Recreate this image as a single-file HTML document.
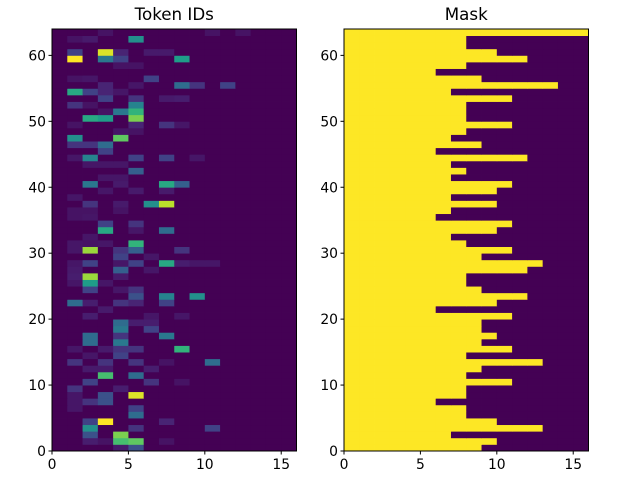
<!DOCTYPE html>
<html><head><meta charset="utf-8"><style>
body{margin:0;background:#fff;}
svg{display:block;font-family:"DejaVu Sans","Liberation Sans",sans-serif;}
</style></head><body>
<svg id="fig" width="640" height="480" xmlns="http://www.w3.org/2000/svg"></svg>
<script>
const xTicks=[0,5,10,15];
const yTicks=[0,10,20,30,40,50,60];
const nCols=16, nRows=64;
// mask lengths, row 0 first
const maskLengths=[9,10,7,13,10,8,8,6,8,8,11,8,9,13,8,11,9,10,9,9,11,6,10,12,9,8,8,12,13,9,11,8,
7,10,11,6,7,10,7,10,11,7,8,7,12,6,9,7,8,11,8,8,8,11,7,14,9,6,8,12,10,8,8,16];
// token cells [row, col, value 0..10]; all others 0
const tokenCells=[
[63,3,.5],[63,10,.5],[63,12,.5],
[62,1,.5],[62,2,.7],[62,5,5],
[60,1,2],[60,3,9.5],[60,4,1],[60,6,.7],[60,7,.7],
[59,1,10],[59,3,4],[59,4,2],[59,8,5.5],
[58,4,.5],[58,5,.5],
[56,1,.5],[56,2,.6],[56,6,2],
[55,3,1],[55,5,.6],[55,8,3.5],[55,9,1.5],[55,11,2],
[54,1,6],[54,2,2],[54,3,1],[54,4,.6],
[53,3,2],[53,5,1.5],[53,7,.7],[53,8,.8],
[52,1,1.5],[52,2,.5],[52,5,4.5],
[51,3,.5],[51,4,4],[51,5,6.5],
[50,2,6],[50,3,5.5],[50,5,8],
[49,1,.5],[49,5,1],[49,7,1.5],[49,8,.6],
[48,4,.6],[48,5,.5],
[47,1,5],[47,4,7.5],
[46,1,1.5],[46,2,1.5],[46,3,3.5],
[45,3,2],
[44,1,.6],[44,2,4.5],[44,5,2],[44,7,2],[44,9,.6],
[43,2,.6],[43,3,.6],[43,4,.6],
[42,5,3],
[41,3,.6],[41,4,.6],
[40,2,4],[40,4,.7],[40,7,6],[40,8,3],
[39,3,.6],[39,5,.7],[39,7,.7],
[38,1,.6],
[37,2,1.5],[37,4,.7],[37,6,5],[37,7,9],
[36,1,.5],[36,2,.5],[36,4,.5],
[35,1,.5],[35,2,.6],
[34,3,2],[34,5,1.5],
[33,3,6],[33,5,.6],[33,7,3.5],
[32,2,.6],
[31,1,.6],[31,2,.5],[31,3,.6],[31,5,6.5],
[30,1,.6],[30,2,8.5],[30,4,1.5],[30,5,3],[30,8,1.5],
[29,4,2],[29,6,.6],
[28,1,.6],[28,2,2],[28,4,.6],[28,5,2],[28,7,6],[28,8,.8],[28,9,.6],[28,10,.6],
[27,1,.7],[27,4,3],[27,6,.6],
[26,1,.8],[26,2,8.5],[26,4,.7],
[25,1,.6],[25,2,5.5],[25,3,.6],
[24,2,2],[24,4,.6],[24,5,1.5],
[23,5,2.5],[23,7,4.5],[23,9,5],
[22,1,3.5],[22,2,.8],[22,4,1.5],[22,5,1],[22,7,2],
[21,3,.7],
[20,2,.8],[20,6,.6],[20,8,.6],
[19,4,3.5],[19,5,.8],[19,6,.8],
[18,4,4],[18,6,2],
[17,2,3.5],[17,4,1.5],[17,7,4],
[16,2,3.5],[16,4,4],
[15,1,.6],[15,3,.7],[15,4,1.5],[15,5,1.5],[15,8,6.5],
[14,2,.6],[14,4,2],
[13,1,1.5],[13,3,1.5],[13,5,1.5],[13,7,.5],[13,10,3.5],
[12,2,.7],[12,3,.7],[12,6,.8],
[11,3,7],[11,5,3.5],
[10,2,2],[10,6,1.5],[10,8,.5],
[9,1,1.5],[9,4,.8],
[8,1,.6],[8,3,2.5],[8,5,9.5],
[7,1,.6],[7,2,1.5],[7,3,2.5],
[6,1,.6],[6,5,2],
[5,5,3.5],
[4,2,2],[4,3,10],[4,7,1],
[3,2,5],[3,5,1.5],[3,10,2],
[2,2,2.5],[2,4,8],
[1,2,.8],[1,3,.5],[1,4,7],[1,5,7.5],[1,7,.5],
[0,4,.7],[0,5,2.5]
];
const viridis=[[68,1,84],[72,40,120],[62,73,137],[49,104,142],[38,130,142],[31,158,137],[53,183,121],[109,205,89],[180,222,44],[253,231,37]];
function cmap(t){t=Math.max(0,Math.min(1,t));const p=t*(viridis.length-1);const i=Math.min(Math.floor(p),viridis.length-2);const f=p-i;
const a=viridis[i],b=viridis[i+1];return `rgb(${a.map((v,k)=>Math.round(v+(b[k]-v)*f)).join(',')})`;}
const NS="http://www.w3.org/2000/svg";
const svg=document.getElementById('fig');
function mk(tag,attrs,parent){const e=document.createElementNS(NS,tag);for(const k in attrs)e.setAttribute(k,attrs[k]);(parent||svg).appendChild(e);return e;}
function panel(x0,title,name,cellColor){
  const top=29,bottom=451,w=244.5,h=bottom-top;
  const sx=v=>x0+v*w/nCols, sy=v=>bottom-v*h/nRows;
  const g=mk('g',{});
  
  
  for(let r=0;r<nRows;r++)for(let c=0;c<nCols;c++){
    const rc=mk('rect',{x:sx(c),y:sy(r+1),width:sx(c+1)-sx(c)+0.4,height:sy(r)-sy(r+1)+0.4,fill:cellColor(r,c)},g);
    
    
  }
  const fr=mk('rect',{x:x0,y:top,width:w,height:h,fill:'none',stroke:'#000','stroke-width':1},g);
  
  
  xTicks.forEach(t=>{mk('line',{x1:sx(t),x2:sx(t),y1:bottom,y2:bottom+3.5,stroke:'#000'},g);
    const tx=mk('text',{x:sx(t),y:bottom+18,'font-size':13.9,'text-anchor':'middle'},g);tx.textContent=t;
    
    });
  yTicks.forEach(t=>{mk('line',{x1:x0-3.5,x2:x0,y1:sy(t),y2:sy(t),stroke:'#000'},g);
    const tx=mk('text',{x:x0-6,y:sy(t)+5,'font-size':13.9,'text-anchor':'end'},g);tx.textContent=t;
    
    });
  const tt=mk('text',{x:x0+w/2,y:20,'font-size':16.7,'text-anchor':'middle'},g);tt.textContent=title;
  
  
}
const tokenMatrix=[];for(let r=0;r<nRows;r++)tokenMatrix.push(new Array(nCols).fill(0));
tokenCells.forEach(([r,c,v])=>{tokenMatrix[r][c]=v;});
panel(52,'Token IDs','token-ids-heatmap',(r,c)=>cmap(tokenMatrix[r][c]/10));
panel(344,'Mask','mask-heatmap',(r,c)=>c<maskLengths[r]?cmap(1):cmap(0));
</script>
</body></html>
